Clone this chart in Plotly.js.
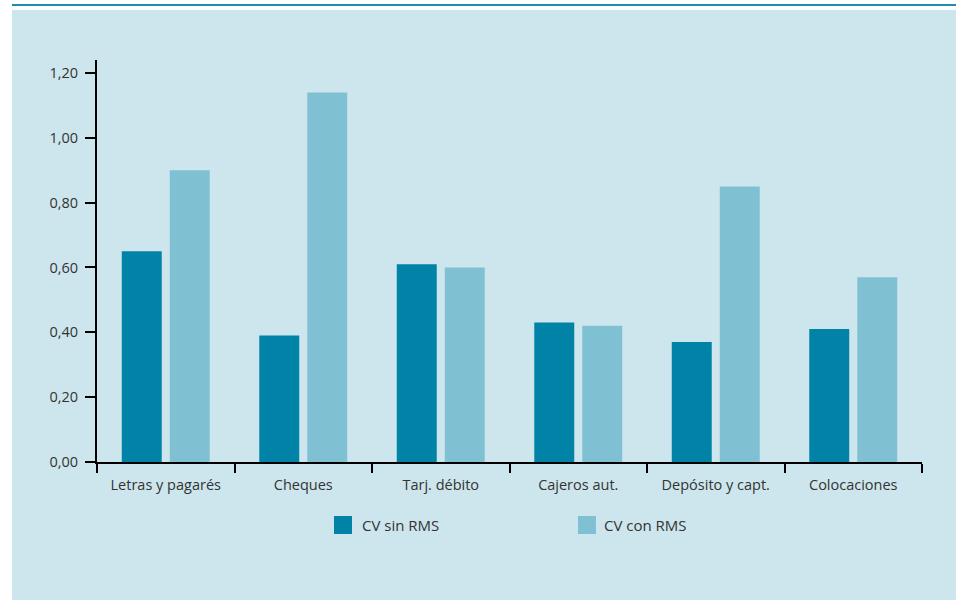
<!DOCTYPE html>
<html>
<head>
<meta charset="utf-8">
<script src="https://cdn.plot.ly/plotly-3.0.1.min.js"></script>
<style>
  html, body { margin: 0; padding: 0; background: #ffffff; }
  #wrap { position: relative; width: 956px; height: 600px; background: #ffffff; overflow: hidden; }
  #rule { position: absolute; left: 12px; top: 4px; width: 944px; height: 2px; background: #1a8fb2; }
  #panel { position: absolute; left: 12px; top: 10px; width: 944px; height: 590px; background: #cde6ed; }
  #chart { position: absolute; left: 0; top: 0; width: 956px; height: 600px; }
</style>
</head>
<body>
<div id="wrap">
  <div id="rule"></div>
  <div id="panel"></div>
  <div id="chart"></div>
</div>
<script>
// Coefficient of variation by payment instrument, without and with RMS
const categories = ["Letras y pagarés", "Cheques", "Tarj. débito", "Cajeros aut.", "Depósito y capt.", "Colocaciones"];
const cvSinRMS = [0.65, 0.39, 0.61, 0.43, 0.37, 0.41];
const cvConRMS = [0.90, 1.14, 0.60, 0.42, 0.85, 0.57];
const seriesNames = ["CV sin RMS", "CV con RMS"];
const seriesColors = ["#0083a6", "#80c0d3"];
const yTicks = [0, 0.2, 0.4, 0.6, 0.8, 1.0, 1.2];

const FONT = "'Open Sans', 'Noto Sans', sans-serif";
const TEXT = "#333333";

const traces = [cvSinRMS, cvConRMS].map((vals, i) => ({
  type: "bar",
  x: categories,
  y: vals,
  name: seriesNames[i],
  marker: { color: seriesColors[i], line: { width: 0 } },
  hoverinfo: "x+y+name",
  showlegend: false
}));

// Legend drawn as square swatches with labels beneath the plot
const legendSpec = [
  { sx0: 0.2873, sx1: 0.3091, tx: 0.3188 },
  { sx0: 0.5830, sx1: 0.6048, tx: 0.6121 }
];
const shapes = legendSpec.map((p, i) => ({
  type: "rect", xref: "paper", yref: "paper",
  x0: p.sx0, x1: p.sx1, y0: -0.1791, y1: -0.1343,
  fillcolor: seriesColors[i], line: { width: 0 }
}));
const annotations = legendSpec.map((p, i) => ({
  xref: "paper", yref: "paper", x: p.tx, y: -0.1567,
  xanchor: "left", yanchor: "middle", showarrow: false,
  text: seriesNames[i], font: { family: FONT, size: 15, color: TEXT }
}));

const layout = {
  width: 956, height: 600,
  margin: { l: 97, r: 34, t: 60, b: 138, pad: 0 },
  paper_bgcolor: "rgba(0,0,0,0)",
  plot_bgcolor: "rgba(0,0,0,0)",
  separators: ",.",
  font: { family: FONT, size: 14.5, color: TEXT },
  barmode: "group",
  bargap: 0.302,
  bargroupgap: 0.167,
  showlegend: false,
  xaxis: {
    type: "category",
    range: [-0.5, categories.length - 0.5],
    showline: true, linecolor: "#000000", linewidth: 2,
    ticks: "outside", tickson: "boundaries", ticklen: 9, tickwidth: 2, tickcolor: "#000000",
    ticklabelstandoff: 9,
    showgrid: false, zeroline: false,
    tickfont: { family: FONT, size: 14.5, color: TEXT }
  },
  yaxis: {
    range: [0, 1.24],
    tickvals: yTicks,
    tickformat: ".2f",
    showline: true, linecolor: "#000000", linewidth: 2,
    ticks: "outside", ticklen: 10, tickwidth: 2, tickcolor: "#000000",
    ticklabelstandoff: 4,
    showgrid: false, zeroline: false,
    tickfont: { family: FONT, size: 14.5, color: TEXT }
  },
  shapes: shapes,
  annotations: annotations
};

Plotly.newPlot("chart", traces, layout, { displayModeBar: false, staticPlot: true });
</script>
</body>
</html>
